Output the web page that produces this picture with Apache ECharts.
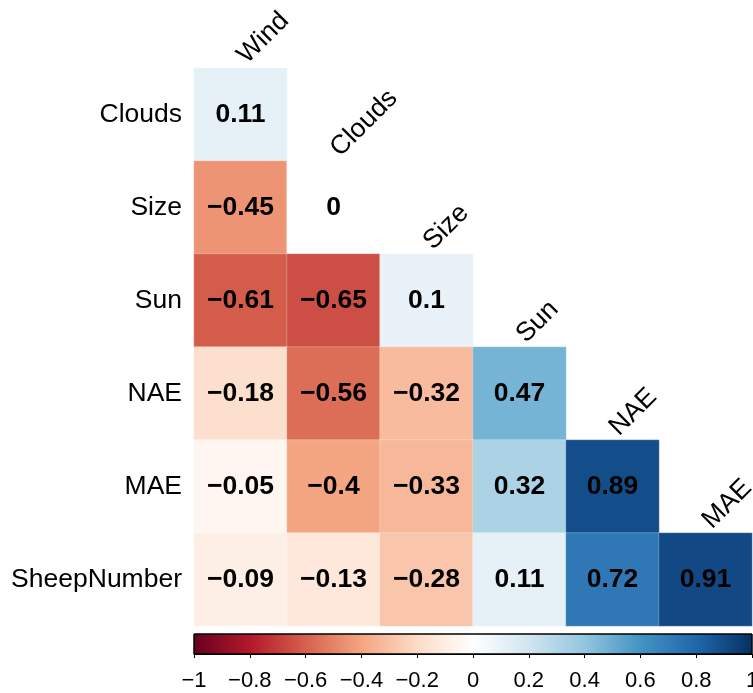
<!DOCTYPE html>
<html><head><meta charset="utf-8">
<script src="https://cdn.jsdelivr.net/npm/echarts@6/dist/echarts.min.js"></script>
<style>html,body{margin:0;padding:0;background:#fff}#c{width:753px;height:693px}</style>
</head><body><div id="c"></div>
<script>
const rowNames = ['Clouds', 'Size', 'Sun', 'NAE', 'MAE', 'SheepNumber'];
const colNames = ['Wind', 'Clouds', 'Size', 'Sun', 'NAE', 'MAE'];
const rowClouds = [0.11];
const rowSize = [-0.45, 0];
const rowSun = [-0.61, -0.65, 0.1];
const rowNAE = [-0.18, -0.56, -0.32, 0.47];
const rowMAE = [-0.05, -0.4, -0.33, 0.32, 0.89];
const rowSheepNumber = [-0.09, -0.13, -0.28, 0.11, 0.72, 0.91];
const colorbarRange = [-1, 1];
const colorbarStep = 0.2;
const palette = ['#67001F', '#B2182B', '#D6604D', '#F4A582', '#FDDBC7', '#FFFFFF',
                 '#D1E5F0', '#92C5DE', '#4393C3', '#2166AC', '#053061'];

const rowsValues = [rowClouds, rowSize, rowSun, rowNAE, rowMAE, rowSheepNumber];
const cells = [];
rowsValues.forEach((vals, r) => vals.forEach((v, c) => cells.push([c, r, v])));

const FONT = 'Liberation Sans, Arial, Helvetica, sans-serif';
const fmt = v => { const r = Math.round(v * 100) / 100; return (r < 0 ? '\u2212' : '') + String(Math.abs(r)); };

const stops = palette.map((c, i) => ({ offset: i / (palette.length - 1), color: c }));

const chart = echarts.init(document.getElementById('c'), null, { renderer: 'canvas' });
const option = {
  backgroundColor: '#fff',
  animation: false,
  grid: [
    { left: 194, right: 1, top: 68, bottom: 67, containLabel: false, outerBoundsMode: 'none' },
    { left: 194, right: 1, top: 634, height: 20, containLabel: false, outerBoundsMode: 'none' }
  ],
  xAxis: [
    { type: 'category', gridIndex: 0, data: colNames, show: false },
    { type: 'value', gridIndex: 1, min: colorbarRange[0], max: colorbarRange[1], interval: colorbarStep,
      position: 'bottom',
      axisLine: { show: true, onZero: false, lineStyle: { color: '#000', width: 1 } },
      axisTick: { show: true, length: 4, lineStyle: { color: '#000' } },
      splitLine: { show: false },
      axisLabel: { fontSize: 22, color: '#000', fontFamily: FONT, margin: 16, formatter: fmt, showMinLabel: true, showMaxLabel: true, hideOverlap: false } }
  ],
  yAxis: [
    { type: 'category', gridIndex: 0, data: rowNames, inverse: true,
      axisLine: { show: false }, axisTick: { show: false }, splitLine: { show: false },
      axisLabel: { fontSize: 26.5, color: '#000', fontFamily: FONT, margin: 12 } },
    { type: 'value', gridIndex: 1, min: 0, max: 1, show: false }
  ],
  visualMap: {
    type: 'continuous', show: false, min: colorbarRange[0], max: colorbarRange[1], seriesIndex: 0, dimension: 2,
    inRange: { color: palette }
  },
  series: [
    { type: 'heatmap', xAxisIndex: 0, yAxisIndex: 0, data: cells,
      itemStyle: { borderColor: 'rgba(255,255,255,0.5)', borderWidth: 0.5 },
      label: { show: true, fontSize: 26.5, fontWeight: 'bold', color: '#000', fontFamily: FONT,
               formatter: p => fmt(p.value[2]) },
      emphasis: { disabled: true } },
    { type: 'custom', xAxisIndex: 1, yAxisIndex: 1, silent: true,
      data: [[colorbarRange[0], 0, colorbarRange[1], 1]],
      renderItem: (params, api) => {
        const p0 = api.coord([api.value(0), api.value(3)]);
        const p1 = api.coord([api.value(2), api.value(1)]);
        return { type: 'rect', shape: { x: p0[0], y: p0[1], width: p1[0] - p0[0], height: p1[1] - p0[1] },
                 style: { fill: new echarts.graphic.LinearGradient(0, 0, 1, 0, stops), stroke: '#000', lineWidth: 1 } };
      } }
  ]
};
chart.setOption(option);

const a = chart.convertToPixel({ gridIndex: 0 }, [0, 0]);
const b = chart.convertToPixel({ gridIndex: 0 }, [0, 1]);
const cellH = b[1] - a[1];
const graphics = colNames.map((name, j) => {
  const p = chart.convertToPixel({ gridIndex: 0 }, [j, j]);
  return { type: 'text', x: p[0] + 11, y: p[1] - cellH / 2 + 1, rotation: Math.PI / 4,
           style: { text: name, fontSize: 26.5, fontFamily: FONT, fill: '#000', align: 'left', verticalAlign: 'bottom' } };
});
chart.setOption({ graphic: graphics });
</script></body></html>
